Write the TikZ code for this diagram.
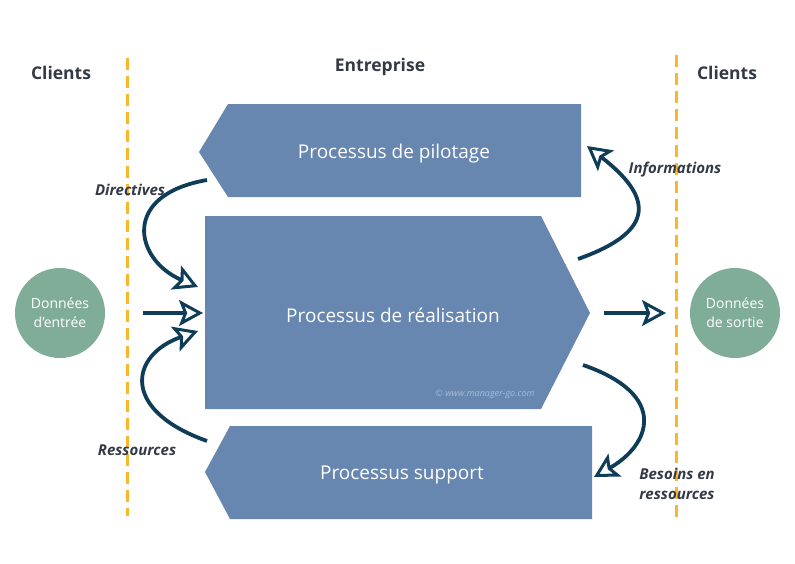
\documentclass[tikz,border=0pt]{standalone}
\usepackage{fontspec}
\setmainfont{Open Sans}
\usetikzlibrary{arrows.meta}
\definecolor{shapeblue}{HTML}{6787B0}
\definecolor{circgreen}{HTML}{80AD98}
\definecolor{arrowc}{HTML}{0F3D57}
\definecolor{dashor}{HTML}{F9B82A}
\definecolor{txtdark}{HTML}{333A45}
\definecolor{wmark}{HTML}{A9BDD8}
\tikzset{
  proc/.style={fill=shapeblue, draw=none},
  proctext/.style={text=white, font=\fontsize{19}{23}\selectfont},
  circ/.style={circle, fill=circgreen, minimum size=90pt, inner sep=0pt, text=white, align=center, font=\fontsize{14}{19}\selectfont},
  heading/.style={text=txtdark, font=\bfseries\fontsize{17.5}{20}\selectfont},
  flowlabel/.style={text=txtdark, font=\bfseries\itshape\fontsize{15}{20}\selectfont, align=center},
  flow/.style={draw=arrowc, line width=3.8pt, -{Stealth[open, length=24pt, width=26pt, inset=5pt, line width=3pt]}},
  sepline/.style={draw=dashor, line width=3pt, dash pattern=on 12pt off 6pt}
}
\begin{document}
\begin{tikzpicture}[x=1pt,y=-1pt]
\useasboundingbox (0,0) rectangle (795,563);
% dashed separators
\draw[sepline] (127,58) -- (127,516);
\draw[sepline] (676,55) -- (676,518);
% process shapes
\fill[proc] (199,152) -- (228,104) -- (581,104) -- (581,197) -- (228,197) -- cycle;
\fill[proc] (205,216) -- (541,216) -- (590,313) -- (541,409) -- (205,409) -- cycle;
\fill[proc] (205,472) -- (230,426) -- (592,426) -- (592,519) -- (230,519) -- cycle;
\node[proctext] (pil) at (394,154) {Processus de pilotage};
\node[proctext] (rea) at (393,315) {Processus de réalisation};
\node[proctext] (sup) at (402,475) {Processus support};
\node[text=wmark, font=\itshape\fontsize{9}{11}\selectfont] (wm) at (485,394) {© www.manager-go.com};
% circles
\node[circ] (in) at (60,313) {Données\\d’entrée};
\node[circ] (out) at (735,313) {Données\\de sortie};
% headings
\node[heading] (c1) at (61,73) {Clients};
\node[heading] (ent) at (380,67) {Entreprise};
\node[heading] (c2) at (727,73) {Clients};
% labels
\node[flowlabel] (ldir) at (130,190) {Directives};
\node[flowlabel] (linf) at (675,170) {Informations};
\node[flowlabel] (lres) at (137,450) {Ressources};
\node[flowlabel] (lbes) at (677,484) {Besoins en\\ressources};
% connector endpoints
\coordinate (d1) at (207,180);
\coordinate (d2) at (198,287);
\coordinate (m1) at (143,313);
\coordinate (m2) at (203,313);
\coordinate (r1) at (207,441);
\coordinate (r2) at (198,331);
\coordinate (i1) at (578,259);
\coordinate (i2) at (587,146);
\coordinate (o1) at (604,313);
\coordinate (o2) at (666,313);
\coordinate (b1) at (583,365);
\coordinate (b2) at (594,477);
% connectors
\draw[flow] (d1) .. controls (120,195) and (135,260) .. (d2);
\draw[flow] (m1) -- (m2);
\draw[flow] (r1) .. controls (120,410) and (130,355) .. (r2);
\draw[flow] (i1) .. controls (660,230) and (650,195) .. (i2);
\draw[flow] (o1) -- (o2);
\draw[flow] (b1) .. controls (670,395) and (650,445) .. (b2);
\end{tikzpicture}
\end{document}
